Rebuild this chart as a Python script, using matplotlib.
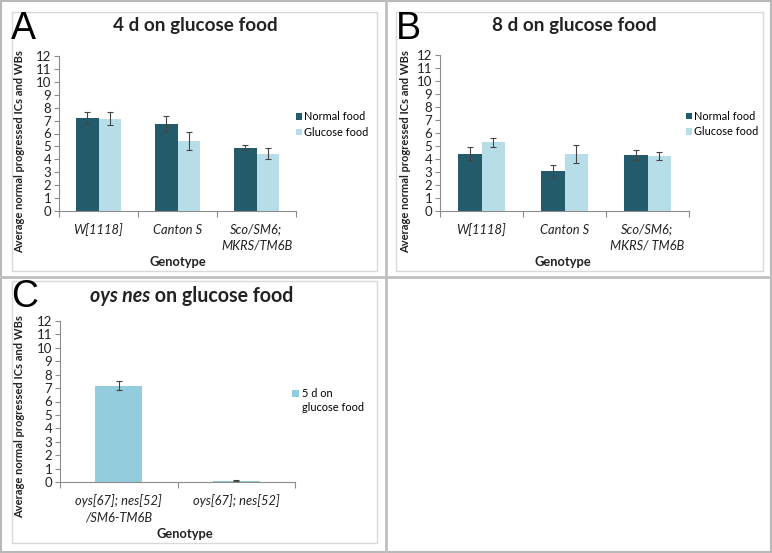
import matplotlib
matplotlib.use("Agg")
import matplotlib.pyplot as plt
from matplotlib.patches import Rectangle
from matplotlib.lines import Line2D
from matplotlib.container import BarContainer
from matplotlib.legend_handler import HandlerPatch, update_from_first_child
import numpy as np

W, H = 772, 553

# ---------------- data ----------------
genotypes_a = ["W[1118]", "Canton S", "Sco/SM6;\nMKRS/TM6B"]
normal_a = [7.2, 6.73, 4.89]
normal_a_err = [0.48, 0.6, 0.2]
glucose_a = [7.14, 5.4, 4.45]
glucose_a_err = [0.5, 0.68, 0.39]

genotypes_b = ["W[1118]", "Canton S", "Sco/SM6;\nMKRS/ TM6B"]
normal_b = [4.42, 3.08, 4.29]
normal_b_err = [0.5, 0.44, 0.39]
glucose_b = [5.29, 4.39, 4.24]
glucose_b_err = [0.33, 0.67, 0.28]

genotypes_c = ["oys[67]; nes[52]\n/SM6-TM6B", "oys[67]; nes[52]"]
glucose5_c = [7.18, 0.1]
glucose5_c_err = [0.35, 0.05]

yticks = list(range(0, 13))
series_labels = ["Normal food", "Glucose food"]
c_label = "5 d on\nglucose food"
ylabel_text = "Average normal progressed ICs and WBs"

DARK = "#245b6a"
LIGHT = "#b7dee8"
CBAR = "#93cddd"
AXC = "#8c8c8c"
TXT = "#222222"
FONT = "Lato"
TICK_FS = 9.3
LEG_FS = 7.9

fig = plt.figure(figsize=(W / 100, H / 100), dpi=100)
fig.patch.set_facecolor("white")


def fx(x):
    return x / W


def fy(y):
    return 1 - y / H


def frame(x0, y0, x1, y1, color, lw):
    fig.add_artist(Rectangle((fx(x0), fy(y1)), fx(x1) - fx(x0), fy(y0) - fy(y1),
                             transform=fig.transFigure, fill=False,
                             edgecolor=color, linewidth=lw))


def hline(x0, x1, y, color, lw):
    fig.add_artist(Line2D([fx(x0), fx(x1)], [fy(y), fy(y)], transform=fig.transFigure,
                          color=color, linewidth=lw))


def vline(x, y0, y1, color, lw):
    fig.add_artist(Line2D([fx(x), fx(x)], [fy(y0), fy(y1)], transform=fig.transFigure,
                          color=color, linewidth=lw))


# panel borders
frame(1, 1, 770.5, 551.5, "#b8b8b8", 1.5)
vline(386, 1, 551, "#c0c0c0", 2.0)
hline(1, 770, 277, "#c0c0c0", 2.0)
# inner chart frames
frame(12, 12, 377, 271, "#d9d9d9", 1.0)
frame(396, 12, 763, 271, "#d9d9d9", 1.0)
frame(12, 281, 377, 543, "#d9d9d9", 1.0)


def make_ax(x0, y0, x1, y1):
    return fig.add_axes([fx(x0), fy(y1), fx(x1) - fx(x0), fy(y0) - fy(y1)])


def style_ax(ax, n, labels, ylab_x, ylab_y, xlab_x, xlab_y):
    ax.set_xlim(-0.5, n - 0.5)
    ax.set_ylim(0, 12)
    for s in ["top", "right"]:
        ax.spines[s].set_visible(False)
    for s in ["left", "bottom"]:
        ax.spines[s].set_color(AXC)
        ax.spines[s].set_linewidth(0.8)
    ax.set_yticks(yticks)
    ax.set_yticklabels([str(t) for t in yticks], fontsize=9.5, color=TXT, family=FONT)
    ax.tick_params(axis="y", length=3.5, width=0.8, color=AXC, pad=2)
    ax.set_xticks(np.arange(-0.5, n, 1.0))
    ax.set_xticklabels([""] * (n + 1))
    ax.tick_params(axis="x", which="major", length=4, width=0.8, color=AXC)
    ax.set_xticks(np.arange(n), minor=True)
    ax.set_xticklabels(labels, minor=True, fontsize=TICK_FS, color=TXT, family=FONT,
                       style="italic", linespacing=1.38)
    ax.tick_params(axis="x", which="minor", length=0, pad=9)
    ax.set_facecolor("none")
    fig.text(fx(ylab_x), fy(ylab_y), ylabel_text, rotation=90, ha="center",
             va="center", fontsize=8.05, fontweight="bold", family=FONT, color=TXT)
    fig.text(fx(xlab_x), fy(xlab_y), "Genotype", ha="center", va="center",
             fontsize=9.3, fontweight="bold", family=FONT, color=TXT)


class TopPatch(HandlerPatch):
    """Legend square aligned with the first line of a two-line label."""

    def _create_patch(self, legend, orig_handle, xdescent, ydescent, width, height,
                      fontsize):
        return Rectangle(xy=(-xdescent, -ydescent + 0.68 * fontsize), width=width,
                         height=height)


ekw = dict(ecolor="#444444", elinewidth=0.8, capsize=2, capthick=0.8)
leg_kw = dict(bbox_transform=fig.transFigure, frameon=False, handlelength=0.55,
              handleheight=0.55, handletextpad=0.2, labelspacing=0.42,
              borderpad=0, borderaxespad=0, prop=dict(family=FONT, size=LEG_FS))

# ---------------- Panel A ----------------
axA = make_ax(59, 56, 296, 211)
x = np.arange(3)
bw = 0.288
axA.bar(x - bw / 2, normal_a, bw, color=DARK, yerr=normal_a_err, error_kw=ekw,
        label=series_labels[0])
axA.bar(x + bw / 2, glucose_a, bw, color=LIGHT, yerr=glucose_a_err, error_kw=ekw,
        label=series_labels[1])
style_ax(axA, 3, genotypes_a, 20, 152, 178, 262)
axA.legend(loc="center left", bbox_to_anchor=(fx(296), fy(124.5)), **leg_kw)
fig.text(fx(195), fy(25), "4 d on glucose food", ha="center", va="center",
         fontsize=13.6, fontweight="bold", family=FONT, color=TXT)
fig.text(fx(11), fy(11), "A", ha="left", va="top", fontsize=27,
         family="Liberation Sans", color="black")

# ---------------- Panel B ----------------
axB = make_ax(440, 55, 689, 211)
bw_b = 0.28
axB.bar(x - bw_b / 2, normal_b, bw_b, color=DARK, yerr=normal_b_err, error_kw=ekw,
        label=series_labels[0])
axB.bar(x + bw_b / 2, glucose_b, bw_b, color=LIGHT, yerr=glucose_b_err, error_kw=ekw,
        label=series_labels[1])
style_ax(axB, 3, genotypes_b, 406, 152, 563, 262)
axB.legend(loc="center left", bbox_to_anchor=(fx(686), fy(124)), **leg_kw)
fig.text(fx(574), fy(25), "8 d on glucose food", ha="center", va="center",
         fontsize=13.6, fontweight="bold", family=FONT, color=TXT)
fig.text(fx(396), fy(11), "B", ha="left", va="top", fontsize=27,
         family="Liberation Sans", color="black")

# ---------------- Panel C ----------------
axC = make_ax(60, 321, 295, 482)
xc = np.arange(2)
axC.bar(xc, glucose5_c, 0.4, color=CBAR, yerr=glucose5_c_err, error_kw=ekw,
        label=c_label)
style_ax(axC, 2, genotypes_c, 20, 417, 185, 534)
c_kw = dict(leg_kw)
c_kw["handlelength"] = 0.68
c_kw["handleheight"] = 0.58
legC = axC.legend(loc="upper left", bbox_to_anchor=(fx(292), fy(388)),
                  handler_map={BarContainer: TopPatch(update_func=update_from_first_child)},
                  **c_kw)
for t in legC.get_texts():
    t.set_linespacing(1.3)
t1 = fig.text(fx(125), fy(296), "oys nes", ha="left", va="center", fontsize=14.1,
              fontweight="bold", style="italic", family=FONT, color=TXT)
t2 = fig.text(fx(125), fy(296), " on glucose food", ha="left", va="center",
              fontsize=14.1, fontweight="bold", family=FONT, color=TXT)
fig.canvas.draw()
r = fig.canvas.get_renderer()
w1 = t1.get_window_extent(r).width
w2 = t2.get_window_extent(r).width
start = 192 - (w1 + w2) / 2
t1.set_x(fx(start))
t2.set_x(fx(start + w1))
fig.text(fx(11), fy(279), "C", ha="left", va="top", fontsize=27,
         family="Liberation Sans", color="black")

fig.savefig("out.png", dpi=100, facecolor="white")
